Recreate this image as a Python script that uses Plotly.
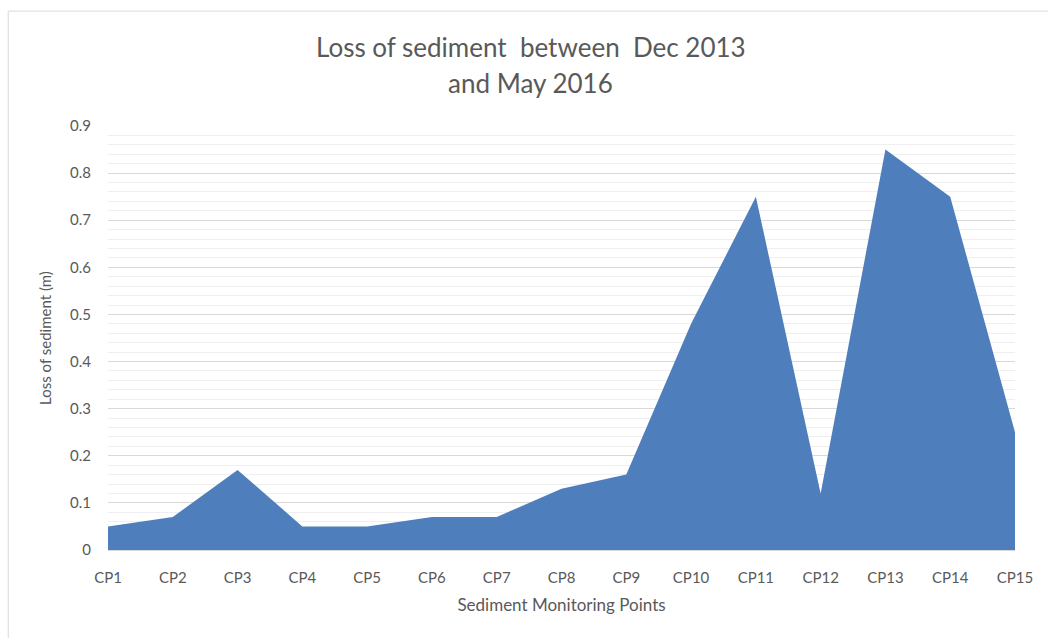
import plotly.graph_objects as go

categories = ["CP1", "CP2", "CP3", "CP4", "CP5", "CP6", "CP7", "CP8",
              "CP9", "CP10", "CP11", "CP12", "CP13", "CP14", "CP15"]
loss_m = [0.05, 0.07, 0.17, 0.05, 0.05, 0.07, 0.07, 0.13,
          0.16, 0.48, 0.75, 0.12, 0.85, 0.75, 0.25]
y_ticks = [0, 0.1, 0.2, 0.3, 0.4, 0.5, 0.6, 0.7, 0.8, 0.9]
y_ticklabels = ["0", "0.1", "0.2", "0.3", "0.4", "0.5", "0.6", "0.7", "0.8", "0.9"]
title_lines = ["Loss of sediment  between  Dec 2013", "and May 2016"]

FONT = "Lato, 'Open Sans', sans-serif"
GRAY = "#595959"

fig = go.Figure()
fig.add_trace(go.Scatter(
    x=categories, y=loss_m, mode="lines", fill="tozeroy",
    fillcolor="#4E7FBC", line=dict(color="#4E7FBC", width=0),
    hoverinfo="x+y", showlegend=False,
))

fig.update_layout(
    width=1048, height=638,
    margin=dict(l=108, r=33, t=126, b=88),
    paper_bgcolor="white", plot_bgcolor="white",
    font=dict(family=FONT, color=GRAY, size=15),
    xaxis=dict(
        type="category", range=[0, len(categories) - 1],
        showgrid=False, zeroline=False,
        showline=True, linecolor="#d9d9d9", linewidth=1,
        ticks="", tickfont=dict(size=15, color=GRAY),
        ticklabelstandoff=14,
        title=dict(text="Sediment Monitoring Points", font=dict(size=17, color=GRAY), standoff=14),
    ),
    yaxis=dict(
        range=[0, 0.9], tickvals=y_ticks, ticktext=y_ticklabels,
        showgrid=True, gridcolor="#d9d9d9", gridwidth=1,
        zeroline=False, showline=False, ticks="",
        tickfont=dict(size=15, color=GRAY),
        ticklabelstandoff=16,
        minor=dict(dtick=0.02, showgrid=True, gridcolor="#efefef", gridwidth=1),
        title=dict(text="Loss of sediment (m)", font=dict(size=15, color=GRAY), standoff=14),
    ),
    annotations=[
        dict(text=title_lines[0], xref="paper", yref="paper", x=0.466, y=1.186,
             xanchor="center", yanchor="middle", showarrow=False,
             font=dict(family=FONT, size=26, color=GRAY)),
        dict(text=title_lines[1], xref="paper", yref="paper", x=0.466, y=1.101,
             xanchor="center", yanchor="middle", showarrow=False,
             font=dict(family=FONT, size=26, color=GRAY)),
    ],
    shapes=[dict(
        type="rect", xref="paper", yref="paper",
        x0=-0.110, x1=1.2, y0=-0.4, y1=1.271,
        line=dict(color="#d9d9d9", width=1), fillcolor="rgba(0,0,0,0)", layer="below",
    )],
)

fig.write_html("out.html")
